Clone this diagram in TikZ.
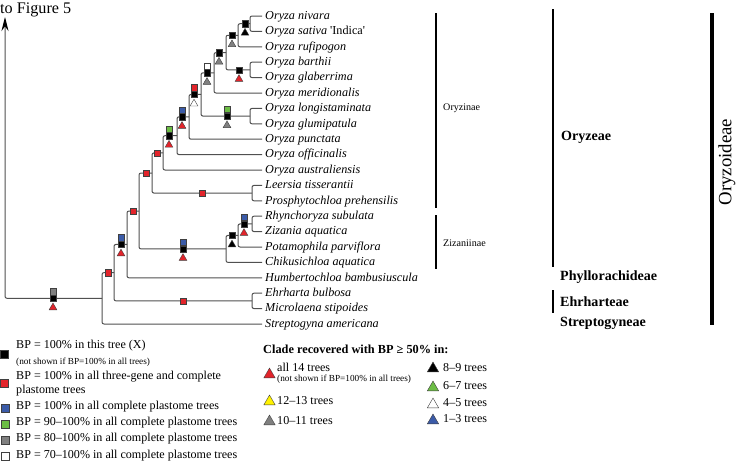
\documentclass[tikz,border=0pt]{standalone}
\usepackage{fontspec}
\setmainfont{Liberation Serif}
\usetikzlibrary{positioning,shapes.geometric,arrows.meta}

\definecolor{bpred}{HTML}{E2242B}
\definecolor{bpblue}{HTML}{3B5BA8}
\definecolor{bpgreen}{HTML}{6CBD45}
\definecolor{bpgray}{HTML}{808080}
\definecolor{bpyellow}{HTML}{FFF200}
\definecolor{treeline}{HTML}{505050}

\tikzset{
  branch/.style={draw=treeline, line width=0.3mm, rounded corners=0.6mm},
  taxon/.style={anchor=west, inner sep=0.9mm, text height=1.6ex, text depth=0.4ex, font=\fontsize{10.4}{12}\selectfont\itshape},
  sq/.style={draw=black!75, fill=#1, line width=0.12mm, minimum size=1.9mm, inner sep=0pt},
  tri/.style={regular polygon, regular polygon sides=3, draw=black!75, fill=#1, line width=0.12mm, minimum size=2.7mm, inner sep=0pt},
  legsq/.style={sq=#1, minimum size=2.5mm},
  legtri/.style={tri=#1, minimum size=3.9mm, anchor=south},
  legtext/.style={anchor=west, inner sep=0.6mm, font=\fontsize{10.3}{12}\selectfont},
  legnote/.style={anchor=west, inner sep=0.6mm, font=\fontsize{7.9}{9}\selectfont},
  subtribe/.style={anchor=west, inner sep=0.6mm, font=\fontsize{8.6}{10}\selectfont},
  tribe/.style={anchor=west, inner sep=0.6mm, font=\fontsize{12}{14}\selectfont\bfseries},
  groupbar/.style={draw=black, line width=#1},
}

\begin{document}
\begin{tikzpicture}[x=0.3mm, y=-0.3mm]
    \useasboundingbox (0,0) rectangle (737,463);

    % taxa
    \node[taxon] (nivara) at (262,16) {Oryza nivara};
    \node[taxon] (sativa) at (262,31.4) {Oryza sativa \upshape\textquotesingle Indica\textquotesingle};
    \node[taxon] (rufipogon) at (262,46.8) {Oryza rufipogon};
    \node[taxon] (barthii) at (262,62.2) {Oryza barthii};
    \node[taxon] (glaberrima) at (262,77.6) {Oryza glaberrima};
    \node[taxon] (meridionalis) at (262,93) {Oryza meridionalis};
    \node[taxon] (longistaminata) at (262,108.4) {Oryza longistaminata};
    \node[taxon] (glumipatula) at (262,123.8) {Oryza glumipatula};
    \node[taxon] (punctata) at (262,139.2) {Oryza punctata};
    \node[taxon] (officinalis) at (262,154.6) {Oryza officinalis};
    \node[taxon] (australiensis) at (262,170) {Oryza australiensis};
    \node[taxon] (leersia) at (262,185.4) {Leersia tisserantii};
    \node[taxon] (prosphytochloa) at (262,200.8) {Prosphytochloa prehensilis};
    \node[taxon] (rhynchoryza) at (262,216.2) {Rhynchoryza subulata};
    \node[taxon] (zizania) at (262,231.6) {Zizania aquatica};
    \node[taxon] (potamophila) at (262,247) {Potamophila parviflora};
    \node[taxon] (chikusichloa) at (262,262.4) {Chikusichloa aquatica};
    \node[taxon] (humbertochloa) at (262,277.8) {Humbertochloa bambusiuscula};
    \node[taxon] (ehrharta) at (262,293.2) {Ehrharta bulbosa};
    \node[taxon] (microlaena) at (262,308.6) {Microlaena stipoides};
    \node[taxon] (streptogyna) at (262,324) {Streptogyna americana};

    % internal nodes
    \coordinate (n1) at (250,23.7);
    \coordinate (n2) at (238,35.25);
    \coordinate (n3) at (250,69.9);
    \coordinate (n4) at (226,52.6);
    \coordinate (n5) at (214,72.8);
    \coordinate (n6) at (250,116.1);
    \coordinate (n7) at (201,94.45);
    \coordinate (n8) at (189,116.8);
    \coordinate (n9) at (177,135.7);
    \coordinate (n10) at (163,152.9);
    \coordinate (n11) at (252,193.1);
    \coordinate (n12) at (152,173);
    \coordinate (n13) at (252,223.9);
    \coordinate (n14) at (238,235.4);
    \coordinate (n15) at (226,248.9);
    \coordinate (n16) at (139,211);
    \coordinate (n17) at (127,244.4);
    \coordinate (n18) at (252,300.9);
    \coordinate (n19) at (114,272.6);
    \coordinate (n20) at (102,298.3);
    \coordinate (figtip) at (5,17);

    % branches
    \draw[branch] (nivara.west) -| (n1) |- (sativa.west);
    \draw[branch] (n1) -| (n2) |- (rufipogon.west);
    \draw[branch] (barthii.west) -| (n3) |- (glaberrima.west);
    \draw[branch] (n2) -| (n4) |- (n3);
    \draw[branch] (n4) -| (n5) |- (meridionalis.west);
    \draw[branch] (longistaminata.west) -| (n6) |- (glumipatula.west);
    \draw[branch] (n5) -| (n7) |- (n6);
    \draw[branch] (n7) -| (n8) |- (punctata.west);
    \draw[branch] (n8) -| (n9) |- (officinalis.west);
    \draw[branch] (n9) -| (n10) |- (australiensis.west);
    \draw[branch] (leersia.west) -| (n11) |- (prosphytochloa.west);
    \draw[branch] (n10) -| (n12) |- (n11);
    \draw[branch] (rhynchoryza.west) -| (n13) |- (zizania.west);
    \draw[branch] (n13) -| (n14) |- (potamophila.west);
    \draw[branch] (n14) -| (n15) |- (chikusichloa.west);
    \draw[branch] (n12) -| (n16) |- (n15);
    \draw[branch] (n16) -| (n17) |- (humbertochloa.west);
    \draw[branch] (ehrharta.west) -| (n18) |- (microlaena.west);
    \draw[branch] (n17) -| (n19) |- (n18);
    \draw[branch] (n19) -| (n20) |- (streptogyna.west);
    \draw[branch, -{Stealth[length=4.2mm, width=2.1mm, inset=1.4mm, color=black]}] (n20) -| (figtip);
    \node[anchor=base west, inner sep=0pt, font=\fontsize{13.8}{15}\selectfont] (fig5) at (0,13.3) {to Figure 5};

    % support on the branches
    \node[sq=black] (m1) at (245,23.7) {};
    \node[tri=black, below=0.3mm of m1] (t1) {};
    \node[sq=black] (m2) at (232,35.25) {};
    \node[tri=bpgray, below=0.3mm of m2] (t2) {};
    \node[sq=black] (m3) at (239,69.9) {};
    \node[tri=bpred, below=0.3mm of m3] (t3) {};
    \node[sq=black] (m4) at (219,52.6) {};
    \node[tri=bpgray, below=0.3mm of m4] (t4) {};
    \node[sq=black] (m5) at (207,72.8) {};
    \node[sq=white, above=0pt of m5] (c5) {};
    \node[tri=bpgray, below=0.3mm of m5] (t5) {};
    \node[sq=black] (m6) at (227,116.1) {};
    \node[sq=bpgreen, above=0pt of m6] (c6) {};
    \node[tri=bpgray, below=0.3mm of m6] (t6) {};
    \node[sq=black] (m7) at (194,94.45) {};
    \node[sq=bpred, above=0pt of m7] (c7) {};
    \node[tri=white, below=0.3mm of m7] (t7) {};
    \node[sq=black] (m8) at (182,116.8) {};
    \node[sq=bpblue, above=0pt of m8] (c8) {};
    \node[tri=bpred, below=0.3mm of m8] (t8) {};
    \node[sq=black] (m9) at (169,135.7) {};
    \node[sq=bpgreen, above=0pt of m9] (c9) {};
    \node[tri=bpred, below=0.3mm of m9] (t9) {};
    \node[sq=bpred] (m10) at (157,152.9) {};
    \node[sq=bpred] (m11) at (202,193.1) {};
    \node[sq=bpred] (m12) at (146,173) {};
    \node[sq=black] (m13) at (244,223.9) {};
    \node[sq=bpblue, above=0pt of m13] (c13) {};
    \node[tri=bpred, below=0.3mm of m13] (t13) {};
    \node[sq=black] (m14) at (232,235.4) {};
    \node[tri=black, below=0.3mm of m14] (t14) {};
    \node[sq=black] (m15) at (183,248.9) {};
    \node[sq=bpblue, above=0pt of m15] (c15) {};
    \node[tri=bpred, below=0.3mm of m15] (t15) {};
    \node[sq=bpred] (m16) at (133,211) {};
    \node[sq=black] (m17) at (121,244.4) {};
    \node[sq=bpblue, above=0pt of m17] (c17) {};
    \node[tri=bpred, below=0.3mm of m17] (t17) {};
    \node[sq=bpred] (m18) at (183,300.9) {};
    \node[sq=bpred] (m19) at (108,272.6) {};
    \node[sq=black] (m20) at (53,298.3) {};
    \node[sq=bpgray, above=0pt of m20] (c20) {};
    \node[tri=bpred, below=0.3mm of m20] (t20) {};

    % groups
    \draw[groupbar=0.4mm] (436,13) -- (436,208);
    \node[subtribe] (oryzinae) at (441,108) {Oryzinae};
    \draw[groupbar=0.4mm] (436,215) -- (436,269);
    \node[subtribe] (zizaniinae) at (441,243) {Zizaniinae};
    \draw[groupbar=0.6mm] (553,9) -- (553,267);
    \node[tribe] (oryzeae) at (559,137) {Oryzeae};
    \node[tribe] (phyllorachideae) at (558,277) {Phyllorachideae};
    \draw[groupbar=0.45mm] (553,290) -- (553,313);
    \node[tribe] (ehrharteae) at (558,302) {Ehrharteae};
    \node[tribe] (streptogyneae) at (558,323) {Streptogyneae};
    \draw[groupbar=1mm] (712,13) -- (712,325);
    \node[rotate=90, font=\fontsize{16}{18}\selectfont] (oryzoideae) at (727,162) {Oryzoideae};

    % legend: squares
    \node[legsq=black] (lblack) at (4.5,354) {};
    \node[legtext] (lblacktxt) at (14,346) {BP = 100\% in this tree (X)};
    \node[legnote] (lblacknote) at (14,362) {(not shown if BP=100\% in all trees)};
    \node[legsq=bpred] (lred) at (4.5,383) {};
    \node[legtext] (lredtxt) at (14,377) {BP = 100\% in all three-gene and complete};
    \node[legtext] (lredtxt2) at (14,391) {plastome trees};
    \node[legsq=bpblue] (lblue) at (5,408) {};
    \node[legtext] (lbluetxt) at (14,407) {BP = 100\% in all complete plastome trees};
    \node[legsq=bpgreen] (lgreen) at (5,424) {};
    \node[legtext] (lgreentxt) at (14,423) {BP = 90--100\% in all complete plastome trees};
    \node[legsq=bpgray] (lgray) at (5,440) {};
    \node[legtext] (lgraytxt) at (14,439) {BP = 80--100\% in all complete plastome trees};
    \node[legsq=white] (lwhite) at (5,456) {};
    \node[legtext] (lwhitetxt) at (14,456) {BP = 70--100\% in all complete plastome trees};

    % legend: triangles
    \node[anchor=west, inner sep=0.6mm, font=\fontsize{10.5}{12}\selectfont\bfseries] (cladetitle) at (261,349) {Clade recovered with BP ≥ 50\% in:};
    \node[legtri=bpred] (tred) at (269.5,378) {};
    \node[legtext] (tredtxt) at (275,367) {all 14 trees};
    \node[legnote] (trednote) at (275,379) {(not shown if BP=100\% in all trees)};
    \node[legtri=bpyellow] (tyellow) at (269.5,405) {};
    \node[legtext] (tyellowtxt) at (275,401) {12--13 trees};
    \node[legtri=bpgray] (tgray) at (269.5,425) {};
    \node[legtext] (tgraytxt) at (275,421) {10--11 trees};
    \node[legtri=black] (tblack) at (433,372) {};
    \node[legtext] (tblacktxt) at (441,368) {8--9 trees};
    \node[legtri=bpgreen] (tgreen) at (433,391) {};
    \node[legtext] (tgreentxt) at (441,386) {6--7 trees};
    \node[legtri=white] (twhite) at (433,408) {};
    \node[legtext] (twhitetxt) at (441,403) {4--5 trees};
    \node[legtri=bpblue] (tblue) at (433,424) {};
    \node[legtext] (tbluetxt) at (441,419) {1--3 trees};
\end{tikzpicture}
\end{document}
